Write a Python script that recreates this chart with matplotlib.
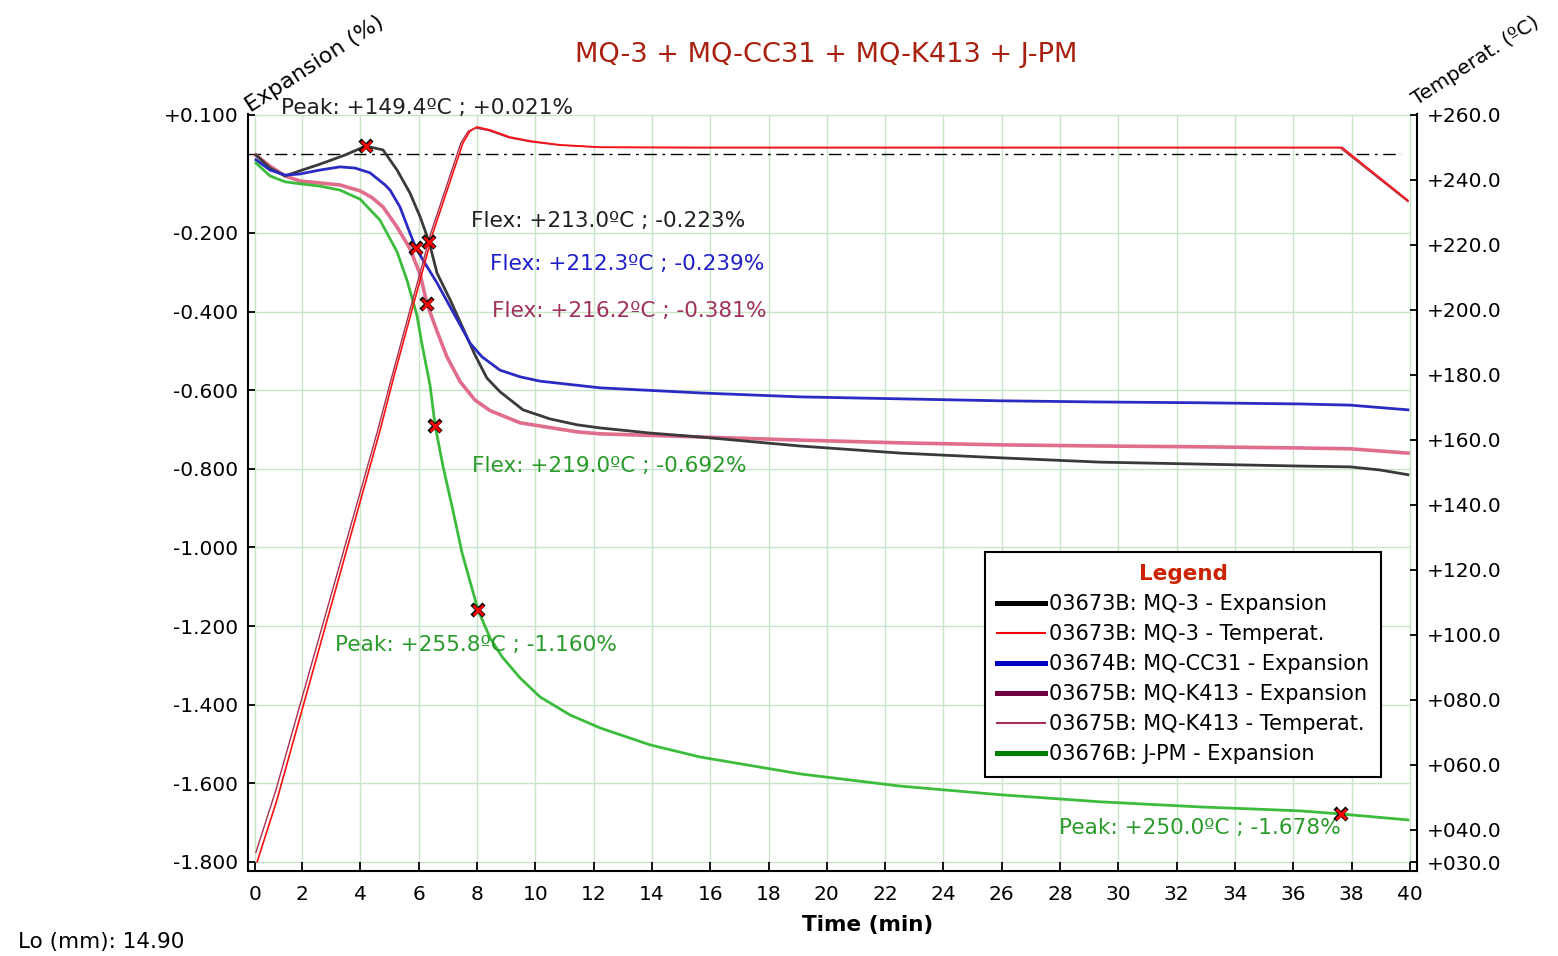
import matplotlib
matplotlib.use('Agg')
import matplotlib.pyplot as plt
from matplotlib.lines import Line2D

plt.rcParams['font.family'] = ['DejaVu Sans', 'Noto Sans']

# ---- data ----
# time (min) / expansion (%)
t_mq3 = [0.42, 0.90, 1.42, 1.93, 2.62, 3.47, 4.19, 4.78, 5.26, 5.70, 6.05, 6.36, 6.63, 7.08, 7.52,
         7.93, 8.34, 8.79, 9.58, 10.50, 11.43, 12.22, 13.93, 15.65, 19.08, 22.51, 25.94, 29.37,
         32.80, 36.22, 37.94, 38.97, 39.93]
e_mq3 = [-0.002, -0.035, -0.055, -0.042, -0.025, -0.002, 0.021, 0.011, -0.040, -0.098, -0.159, -0.223,
         -0.302, -0.370, -0.442, -0.510, -0.569, -0.604, -0.650, -0.673, -0.688, -0.696, -0.709,
         -0.719, -0.742, -0.760, -0.772, -0.783, -0.788, -0.793, -0.795, -0.803, -0.815]

t_cc31 = [0.42, 0.90, 1.42, 1.93, 2.62, 3.30, 3.82, 4.33, 4.85, 5.02, 5.36, 5.70, 5.91, 6.15, 6.63,
          7.08, 7.52, 7.76, 8.17, 8.79, 9.48, 10.16, 12.22, 15.65, 19.08, 22.51, 25.94, 29.37,
          32.80, 36.22, 37.94, 39.93]
e_cc31 = [-0.014, -0.040, -0.053, -0.050, -0.040, -0.032, -0.035, -0.047, -0.078, -0.091, -0.134,
          -0.200, -0.239, -0.269, -0.327, -0.388, -0.447, -0.480, -0.515, -0.549, -0.566, -0.577,
          -0.594, -0.607, -0.617, -0.622, -0.627, -0.630, -0.632, -0.635, -0.638, -0.650]

t_k413 = [0.42, 0.90, 1.42, 1.93, 2.62, 3.30, 3.99, 4.40, 4.78, 5.26, 5.70, 6.05, 6.29, 6.63, 6.97,
          7.42, 7.93, 8.45, 9.48, 11.43, 12.22, 15.65, 19.08, 22.51, 25.94, 29.37, 32.80, 36.22,
          37.94, 39.93]
e_k413 = [-0.002, -0.030, -0.055, -0.068, -0.073, -0.078, -0.093, -0.110, -0.134, -0.185, -0.240,
          -0.305, -0.381, -0.450, -0.515, -0.578, -0.625, -0.652, -0.683, -0.706, -0.711, -0.719,
          -0.727, -0.734, -0.739, -0.742, -0.744, -0.747, -0.749, -0.760]

t_jpm = [0.42, 0.90, 1.42, 1.93, 2.62, 3.30, 3.99, 4.67, 5.26, 5.60, 5.94, 6.12, 6.39, 6.57, 6.84,
         7.15, 7.49, 8.04, 8.45, 8.86, 9.48, 10.16, 11.19, 12.22, 13.93, 15.65, 19.08, 22.51,
         25.94, 29.37, 32.80, 36.22, 37.63, 39.93]
e_jpm = [-0.022, -0.055, -0.070, -0.075, -0.081, -0.091, -0.114, -0.167, -0.248, -0.320, -0.409,
         -0.485, -0.587, -0.692, -0.795, -0.897, -1.014, -1.160, -1.230, -1.278, -1.332, -1.380,
         -1.426, -1.459, -1.502, -1.533, -1.576, -1.607, -1.629, -1.647, -1.660, -1.670, -1.678,
         -1.693]

# time (min) / temperature (C)
t_temp_mq3 = [0.46, 1.14, 4.68, 5.12, 6.49, 7.52, 7.76, 8.00, 8.45, 9.13, 9.82, 10.85, 12.22,
              15.65, 37.67, 39.93]
T_mq3 = [30.0, 49.1, 163.0, 178.4, 223.7, 251.4, 255.0, 256.3, 255.4, 253.2, 252.0, 250.8,
         250.1, 250.0, 250.0, 233.7]
t_temp_k413 = [0.42, 1.10, 4.60, 5.05, 6.42, 7.45, 7.70, 7.95, 8.40, 9.10, 9.80, 10.80, 12.20,
               15.65, 37.60, 39.93]
T_k413 = [33.0, 52.0, 163.0, 178.4, 223.7, 251.4, 255.0, 256.0, 255.2, 253.0, 251.8, 250.7,
          250.0, 249.9, 249.9, 233.3]

# marked points (time, expansion) and their labels
marks_t = [4.19, 6.36, 5.91, 6.29, 6.57, 8.04, 37.63]
marks_e = [0.021, -0.223, -0.239, -0.381, -0.692, -1.160, -1.678]
mark_labels = ['Peak: +149.4ºC ; +0.021%', 'Flex: +213.0ºC ; -0.223%', 'Flex: +212.3ºC ; -0.239%',
               'Flex: +216.2ºC ; -0.381%', 'Flex: +219.0ºC ; -0.692%', 'Peak: +255.8ºC ; -1.160%',
               'Peak: +250.0ºC ; -1.678%']
label_pos = [(1.28, 0.118), (7.80, -0.170), (8.45, -0.279), (8.52, -0.398), (7.83, -0.793),
             (3.13, -1.248), (27.96, -1.713)]
label_colors = ['#202020', '#202020', '#2020c8', '#a0305a', '#2a9a2a', '#2a9a2a', '#2a9a2a']

x_ticks = [0.39, 2, 4, 6, 8, 10, 12, 14, 16, 18, 20, 22, 24, 26, 28, 30, 32, 34, 36, 38, 40]
x_tick_labels = [str(v) for v in range(0, 41, 2)]
y_ticks = [0.1, -0.2, -0.4, -0.6, -0.8, -1.0, -1.2, -1.4, -1.6, -1.8]
T_ticks = [260, 240, 220, 200, 180, 160, 140, 120, 100, 80, 60, 40, 30]

legend_labels = ['03673B: MQ-3 - Expansion', '03673B: MQ-3 - Temperat.', '03674B: MQ-CC31 - Expansion',
                 '03675B: MQ-K413 - Expansion', '03675B: MQ-K413 - Temperat.', '03676B: J-PM - Expansion']

# ---- figure ----
W, H = 1558, 956
fig = plt.figure(figsize=(W / 100, H / 100), dpi=100)
ax = fig.add_axes([248 / W, (H - 871) / H, (1417 - 248) / W, (871 - 114) / H])
ax2 = ax.twinx()

ax.set_xlim(0.148, 40.24)
ax.set_ylim(-1.823, 0.1025)
ax2.set_ylim(27.23, 260.3)

grid_c = '#c9e4c9'
ax.vlines(x_ticks, y_ticks[-1], y_ticks[0], color=grid_c, lw=1, zorder=0)
ax.hlines(y_ticks, x_ticks[0], x_ticks[-1], color=grid_c, lw=1, zorder=0)
ax.plot([0.148, 39.7], [0, 0], color='black', lw=1, ls=(0, (9, 4, 2, 4)), zorder=1)

ax.plot(t_mq3, e_mq3, color='#3a3a3a', lw=2.0, zorder=3)
ax.plot(t_cc31, e_cc31, color='#2b2bc4', lw=2.0, zorder=3)
ax.plot(t_k413, e_k413, color='#e06d8c', lw=2.6, zorder=2)
ax.plot(t_jpm, e_jpm, color='#3cbc3c', lw=2.0, zorder=3)

ax2.plot(t_temp_k413, T_k413, color='#a8304e', lw=1.0)
ax2.plot(t_temp_mq3, T_mq3, color='#ff1010', lw=1.2)

# markers above everything
ax2.plot(marks_t, marks_e, ls='none', marker='x', ms=8, mew=3.2, color='black', transform=ax.transData)
ax2.plot(marks_t, marks_e, ls='none', marker='x', ms=7.5, mew=2.0, color='#ff0000', transform=ax.transData)

for (px, py), txt, c in zip(label_pos, mark_labels, label_colors):
    ax.text(px, py, txt, color=c, fontsize=15.6, ha='left', va='center', clip_on=False, zorder=5)

# axes styling
for a in (ax, ax2):
    a.spines['top'].set_visible(False)
    for s in ('left', 'right', 'bottom'):
        a.spines[s].set_linewidth(1.5)
ax.spines['right'].set_visible(False)
ax2.spines['left'].set_visible(False)
ax2.spines['bottom'].set_visible(False)

ax.set_xticks(x_ticks)
ax.set_xticklabels(x_tick_labels)
ax.set_yticks(y_ticks)
ax.set_yticklabels(['%+.3f' % v for v in y_ticks])
ax2.set_yticks(T_ticks)
ax2.set_yticklabels(['%+06.1f' % v for v in T_ticks])
ax.tick_params(axis='x', direction='in', length=6.5, width=1.3, labelsize=14.5, pad=10)
ax.tick_params(axis='y', direction='in', length=5, width=1.3, labelsize=14.5, pad=7)
ax2.tick_params(axis='y', direction='in', length=5, width=1.3, labelsize=14.5, pad=7)

# titles and labels
fig.text(826 / W, 1 - 55 / H, 'MQ-3 + MQ-CC31 + MQ-K413 + J-PM', color='#a82010', fontsize=19.6,
         ha='center', va='center')
fig.text(253 / W, 1 - 116 / H, 'Expansion (%)', rotation=33, rotation_mode='anchor',
         ha='left', va='bottom', fontsize=16)
fig.text(1419 / W, 1 - 109 / H, 'Temperat. (ºC)', rotation=33, rotation_mode='anchor',
         ha='left', va='bottom', fontsize=14.5)
fig.text(868 / W, 1 - 925 / H, 'Time (min)', fontsize=15.5, fontweight='bold', ha='center', va='center')
fig.text(18 / W, 1 - 942 / H, 'Lo (mm): 14.90', fontsize=15.5, ha='left', va='center')

# legend
handles = [Line2D([], [], color='black', lw=3.6),
           Line2D([], [], color='#ff0000', lw=1.5),
           Line2D([], [], color='#0000c0', lw=3.6),
           Line2D([], [], color='#700040', lw=3.6),
           Line2D([], [], color='#a83050', lw=1.5),
           Line2D([], [], color='#008000', lw=3.6)]
leg = fig.legend(handles, legend_labels, loc='upper left', bbox_to_anchor=(985 / W, 1 - 552 / H),
                 fontsize=15.0, title='Legend', title_fontproperties={'weight': 'bold', 'size': 15.5},
                 fancybox=False, framealpha=1, edgecolor='black', handlelength=2.3,
                 handletextpad=0.15, labelspacing=0.48, borderpad=0.6, borderaxespad=0)
leg.get_title().set_color('#cc2200')
leg.get_frame().set_linewidth(1.5)

fig.savefig('out.png', dpi=100)
